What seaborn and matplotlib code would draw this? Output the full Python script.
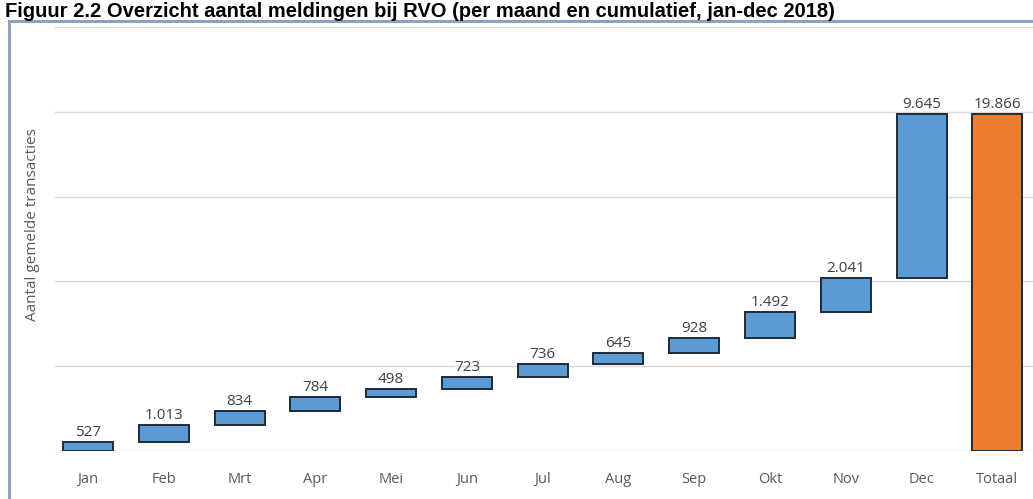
import matplotlib
matplotlib.use("Agg")
import matplotlib.pyplot as plt
import seaborn as sns
import pandas as pd
from matplotlib.patches import Rectangle

categories = ["Jan", "Feb", "Mrt", "Apr", "Mei", "Jun", "Jul", "Aug", "Sep", "Okt", "Nov", "Dec", "Totaal"]
monthly = [527, 1013, 834, 784, 498, 723, 736, 645, 928, 1492, 2041, 9645]
total = 19866
value_labels = ["527", "1.013", "834", "784", "498", "723", "736", "645", "928", "1.492", "2.041", "9.645", "19.866"]

# waterfall bases
bases = []
run = 0
for v in monthly:
    bases.append(run)
    run += v
bases.append(0)
heights = monthly + [total]
tops = [b + h for b, h in zip(bases, heights)]

df = pd.DataFrame({"cat": categories, "top": tops})

sns.set_theme(style="white")
plt.rcParams["font.family"] = ["Open Sans", "DejaVu Sans"]

W, H = 1033, 499
fig = plt.figure(figsize=(W / 100, H / 100), dpi=100)

# panel border
fig.patches.append(Rectangle((8.5 / W, -0.1), 1.2, 1 - 21.5 / H + 0.1, transform=fig.transFigure,
                             fill=False, edgecolor="#8DA3BC", linewidth=2.2))

ax = fig.add_axes([55 / W, 48 / H, (W - 55) / W, (451 - 27) / H])

blue = "#5B9BD5"
orange = "#ED7D31"
palette = {c: (orange if c == "Totaal" else blue) for c in categories}
sns.barplot(data=df, x="cat", y="top", hue="cat", palette=palette, legend=False,
            order=categories, width=0.66, edgecolor="#1E2B38", linewidth=1.4,
            saturation=1, ax=ax, zorder=3)

for p, b, h in zip(ax.patches, bases, heights):
    p.set_y(b)
    p.set_height(h)

for i, (t, lab) in enumerate(zip(tops, value_labels)):
    ax.text(i, t + 120, lab, ha="center", va="bottom", fontsize=11, color="#404040", zorder=4)

ax.set_ylim(0, 25000)
ax.set_xlim(-0.435, 12.47)
ax.set_yticks([0, 5000, 10000, 15000, 20000, 25000])
ax.set_yticklabels([])
ax.grid(axis="y", color="#D9D9D9", linewidth=1, zorder=0)
ax.tick_params(axis="x", length=0, labelsize=10.5, labelcolor="#595959", pad=15)
ax.tick_params(axis="y", length=0)
for s in ax.spines.values():
    s.set_visible(False)
ax.set_xlabel("")
ax.set_ylabel("")

fig.text(33 / W, 1 - 225 / H, "Aantal gemelde transacties", rotation=90, ha="center", va="center",
         fontsize=11, color="#595959")

fig.text(5 / W, 1 - 17 / H, "Figuur 2.2 Overzicht aantal meldingen bij RVO (per maand en cumulatief, jan-dec 2018)",
         ha="left", va="baseline", fontsize=14.5, fontweight="bold", color="#000000",
         family=["Liberation Sans", "DejaVu Sans"])

fig.savefig("out.png", dpi=100)
